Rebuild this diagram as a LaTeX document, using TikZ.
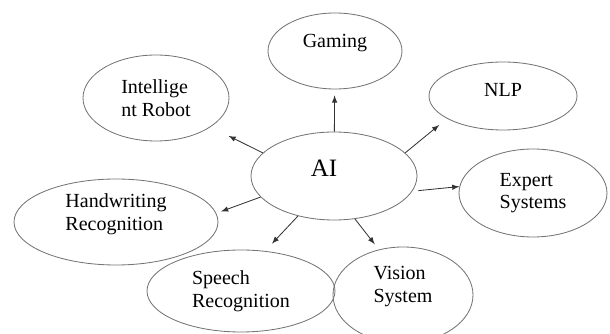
\documentclass[tikz,border=0pt]{standalone}
\usepackage{fontspec}
\setmainfont{Liberation Serif}
\usetikzlibrary{arrows,shapes.geometric}

\begin{document}
\begin{tikzpicture}[x=0.6pt,y=-0.6pt,
        topic/.style={ellipse, draw=black!55, line width=0.5pt, inner sep=0pt, align=left, font=\fontsize{12}{13.5}\selectfont},
        link/.style={-latex, black!80, line width=0.5pt},
    ]
    \useasboundingbox (0,0) rectangle (610,334);

    % centre and the fields around it
    \node[topic, minimum width=99.6pt, minimum height=52.8pt, text depth=9.6pt, font=\fontsize{15}{17}\selectfont] (AI) at (334,176) {AI\hspace{12pt}};
    \node[topic, minimum width=80.4pt, minimum height=45.6pt, text depth=12.2pt] (Gaming) at (335,51) {Gaming};
    \node[topic, minimum width=87.6pt, minimum height=51.6pt] (Robot) at (156,98) {Intellige\\nt Robot};
    \node[topic, minimum width=88.8pt, minimum height=40.8pt, text depth=7.2pt] (NLP) at (503,96) {NLP};
    \node[topic, minimum width=88.8pt, minimum height=52.8pt] (Expert) at (533,193) {Expert\\Systems};
    \node[topic, minimum width=122.4pt, minimum height=51.6pt, text depth=12pt] (Handwriting) at (116,222) {Handwriting\\Recognition};
    \node[topic, minimum width=112.8pt, minimum height=49.2pt] (Speech) at (241,291) {Speech\\Recognition};
    \node[topic, minimum width=84pt, minimum height=57.6pt, text depth=13pt] (Vision) at (403,295) {Vision\\System};

    \draw[link, shorten >=3.6pt] (AI) -- (Gaming);
    \draw[link, shorten >=12pt] (AI.162) -- (Robot.-28);
    \draw[link, shorten >=6pt] (AI.18) -- (NLP.202);
    \draw[link, shorten <=3.6pt] (AI.-11) -- (Expert.175);
    \draw[link, shorten >=3pt] (AI.196) -- (Handwriting.5);
    \draw[link, shorten >=6pt] (AI.228) -- (Speech.59);
    \draw[link, shorten >=4pt] (AI.-64) -- (Vision.118);
\end{tikzpicture}
\end{document}
